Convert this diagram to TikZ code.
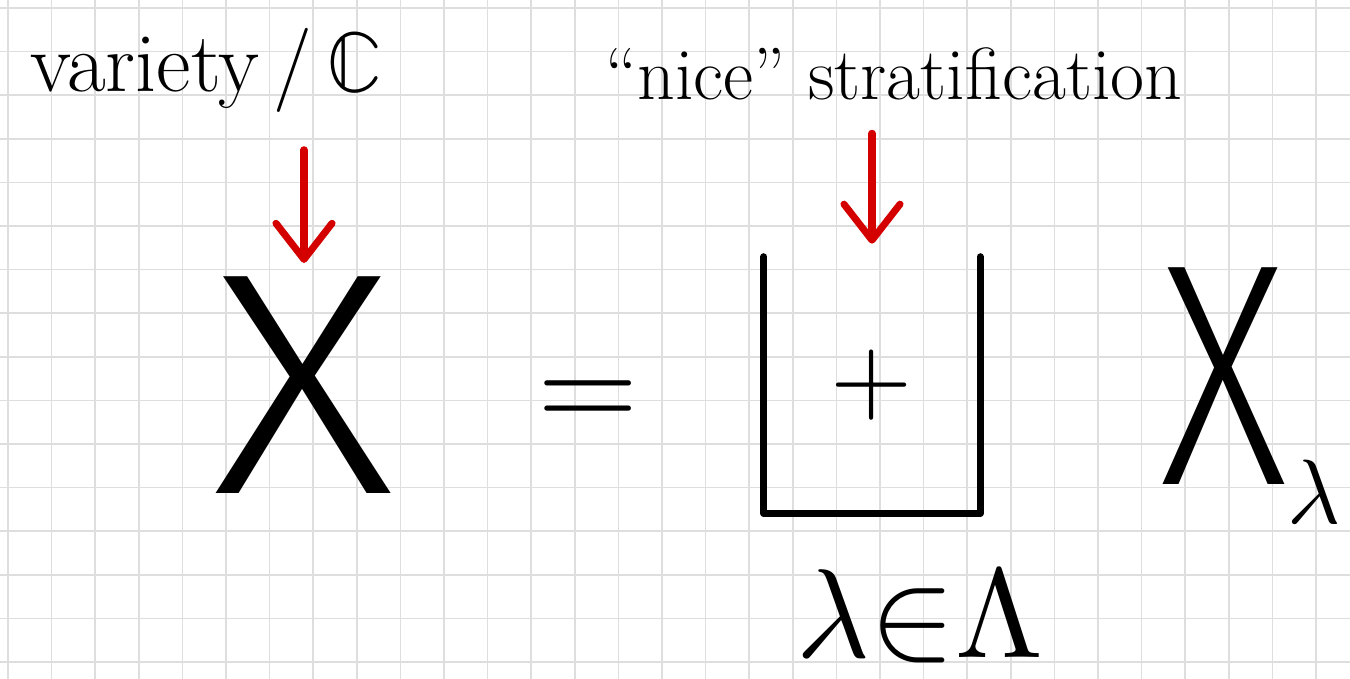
\documentclass[tikz,border=0pt]{standalone}
\usepackage{unicode-math}
\usetikzlibrary{arrows.meta}
\newfontfamily\thinsans{Fira Sans Light}

\definecolor{inkred}{RGB}{212,0,0}
\definecolor{gridgray}{RGB}{222,222,222}

\begin{document}
\begin{tikzpicture}[x=0.01cm, y=-0.01cm,
    gridline/.style = {draw=gridgray, line width=0.45pt},
    ink/.style      = {draw=black, line width=2pt, line cap=round, line join=round},
    redarrow/.style = {draw=inkred, line width=2pt, line cap=round, line join=round,
                       -{Straight Barb[round, length=0.36cm, width=0.56cm]}},
    hand/.style     = {inner sep=0pt, font=\fontsize{24}{28}\selectfont},
    bigX/.style     = {inner sep=0pt, font=\fontsize{90}{90}\selectfont\thinsans}
]
    %-- Paper with squared grid ---------------------------------------------
    \fill[white] (0,0) rectangle (1350,679);
    \useasboundingbox (0,0) rectangle (1350,679);
    \foreach \k in {0,...,30}
        \draw[gridline] ({8+43.6*\k},0) -- ({8+43.6*\k},679);
    \foreach \k in {0,...,15}
        \draw[gridline] (0,{8+43.6*\k}) -- (1350,{8+43.6*\k});

    %-- Labels on top ---------------------------------------------------------
    \node[hand, anchor=base west] (varlabel) at (30,92) {variety\,/\,$\mathbb{C}$};
    \node[hand, anchor=base, font=\fontsize{21}{26}\selectfont] (stratlabel)
          at (894,100) {``nice'' stratification};

    %-- Left-hand side --------------------------------------------------------
    \node[bigX] (varX) at (304,385) {\scalebox{1.12}[1]{X}};
    \node[font=\fontsize{37}{37}\selectfont] (eqsign) at (588,405) {$=$};

    %-- Disjoint union with index set below ----------------------------------
    \node[minimum width=2.15cm, minimum height=2.55cm, inner sep=0pt] (union)
          at (872,385) {};
    \draw[ink] (union.north west) -- (union.south west)
            -- (union.south east) -- (union.north east);
    \node[font=\fontsize{30}{30}\selectfont] (plusmark) at (union.center) {$+$};
    \node[font=\fontsize{36}{36}\selectfont] (idxlabel) at (920,615)
          {${\lambda}{\in}{\Lambda}$};

    %-- Strata ----------------------------------------------------------------
    \node[bigX, anchor=base west] (Xlam) at (1160,485)
          {\scalebox{0.78}[1]{X}\raisebox{-11pt}{\fontsize{26}{26}\selectfont$\lambda$}};

    %-- Red pointers (label -> object) ---------------------------------------
    \draw[redarrow, shorten <=0.36cm, shorten >=0.13cm]
          (varX.north |- varlabel.south) -- (varX.north);
    \draw[redarrow, shorten <=0.32cm, shorten >=0.13cm]
          (union.north |- stratlabel.south) -- (union.north);

\end{tikzpicture}
\end{document}
